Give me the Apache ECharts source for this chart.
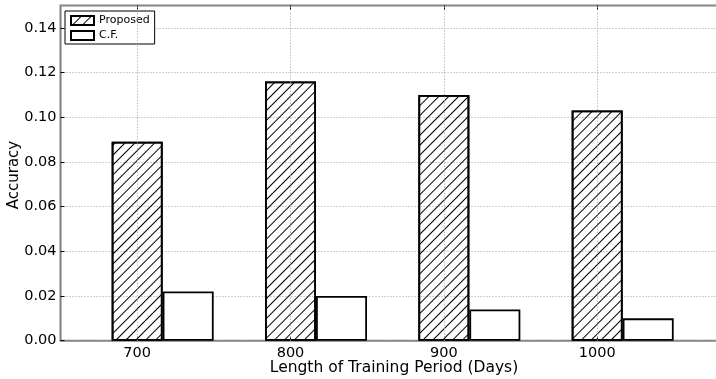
<!DOCTYPE html>
<html>
<head>
<meta charset="utf-8">
<script src="https://cdn.jsdelivr.net/npm/echarts@6/dist/echarts.min.js"></script>
<style>
html,body{margin:0;padding:0;background:#fff;}
#c{width:716px;height:379px;}
</style>
</head>
<body>
<div id="c"></div>
<script>
const categories = ['700', '800', '900', '1000', ''];
const proposed = [0.089, 0.116, 0.110, 0.103];
const cf = [0.022, 0.020, 0.014, 0.010];
const yTicks = [0, 0.02, 0.04, 0.06, 0.08, 0.10, 0.12, 0.14];
const xLabel = 'Length of Training Period (Days)';
const yLabel = 'Accuracy';

const chart = echarts.init(document.getElementById('c'), null, {renderer: 'canvas'});
const FONT = 'DejaVu Sans';
const hatch = {
  symbol: 'rect', symbolSize: 1, color: '#000',
  dashArrayX: [1, 0], dashArrayY: [1, 5.5], rotation: -Math.PI / 4
};
const option = {
  animation: false,
  textStyle: {fontFamily: FONT},
  grid: {left: 60.5, top: 5.5, width: 766.7, height: 335.2, show: true,
         outerBoundsMode: 'none', containLabel: false,
         borderColor: '#7f7f7f', borderWidth: 2, backgroundColor: 'transparent'},
  legend: {
    left: 65, top: 11, orient: 'vertical', itemWidth: 23, itemHeight: 9, itemGap: 4,
    padding: [4, 5, 3, 5], borderColor: '#000', borderWidth: 1, borderRadius: 0,
    backgroundColor: '#fff', textStyle: {fontFamily: FONT, fontSize: 11, color: '#000'},
    data: [{name: 'Proposed', icon: 'rect'}, {name: 'C.F.', icon: 'rect'}]
  },
  xAxis: [{
    type: 'category', data: categories, boundaryGap: true,
    axisLine: {show: false},
    axisTick: {show: true, inside: true, alignWithLabel: true, length: 4, lineStyle: {color: '#000'}},
    axisLabel: {fontSize: 14.5, color: '#000', margin: 5, interval: 0},
    splitLine: {show: false}
  }, {
    type: 'category', data: categories, boundaryGap: true, position: 'top',
    axisLine: {show: false},
    axisTick: {show: true, inside: true, alignWithLabel: true, length: 4, lineStyle: {color: '#000'}},
    axisLabel: {show: false}, splitLine: {show: false}
  }],
  yAxis: {
    type: 'value', min: 0, max: 0.15, interval: 0.02,
    axisLine: {show: false},
    axisTick: {show: true, inside: true, length: 4, lineStyle: {color: '#000'}},
    axisLabel: {fontSize: 14.5, color: '#000', margin: 4, showMaxLabel: false,
      formatter: v => yTicks.some(t => Math.abs(t - v) < 1e-9) ? v.toFixed(2) : ''},
    splitLine: {show: true, lineStyle: {color: '#a0a0a0', width: 1, type: [1, 2]}}
  },
  graphic: [{
    type: 'text', x: 394, y: 360,
    style: {text: xLabel, font: '15.5px "DejaVu Sans"', fill: '#000', align: 'center'}
  }, {
    type: 'text', x: 14, y: 175, rotation: Math.PI / 2,
    style: {text: yLabel, font: '15px "DejaVu Sans"', fill: '#000', align: 'center', verticalAlign: 'middle'}
  }],
  series: [
    {name: '_pad', type: 'bar', data: [], barWidth: 51, barGap: '0%', xAxisIndex: 0},
    {name: 'Proposed', type: 'bar', data: proposed, barWidth: 51, barGap: '0%', xAxisIndex: 0,
     itemStyle: {color: 'rgba(255,255,255,0)', borderColor: '#000', borderWidth: 1.8, decal: hatch},
     markLine: {silent: true, symbol: 'none', label: {show: false}, animation: false,
       lineStyle: {color: '#a0a0a0', width: 1, type: [1, 2]},
       data: categories.slice(0, 4).map(c => ({xAxis: c}))}},
    {name: 'C.F.', type: 'bar', data: cf, barWidth: 51, barGap: '0%', xAxisIndex: 0,
     itemStyle: {color: '#fff', borderColor: '#000', borderWidth: 1.8}}
  ]
};
chart.setOption(option);
</script>
</body>
</html>
